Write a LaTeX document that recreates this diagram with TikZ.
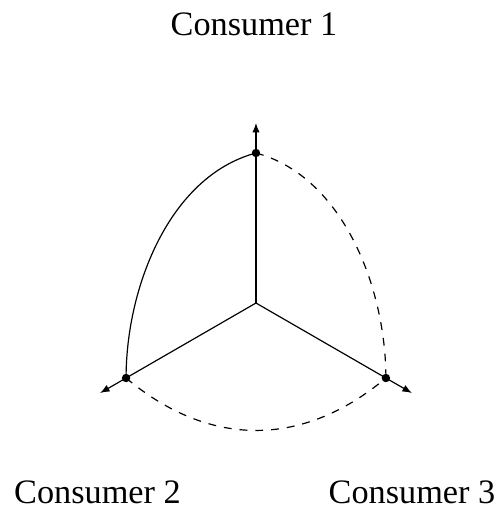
\documentclass[tikz,border=0pt]{standalone}
\usepackage{fontspec}
\setmainfont{Liberation Serif}
\usetikzlibrary{arrows.meta}
\begin{document}
\begin{tikzpicture}[
  axis/.style={line width=0.45pt,-{Latex[length=3.6pt,width=2.8pt]}},
  dotnode/.style={circle,fill=black,inner sep=0pt,minimum size=3.2pt},
  arcline/.style={line width=0.45pt},
  dasharc/.style={line width=0.45pt,dash pattern=on 3pt off 3pt},
  lab/.style={anchor=base,inner sep=0pt,font=\fontsize{13}{15}\selectfont}
]
\useasboundingbox (-3.413,-2.733) rectangle (3.267,4.04);
\coordinate (O) at (0,0);
\coordinate (E1) at (90:2.4);
\coordinate (E2) at (210:2.4);
\coordinate (E3) at (330:2.4);
\draw[axis] (O) -- (E1);
\draw[axis] (O) -- (E2);
\draw[axis] (O) -- (E3);
\node[dotnode] (A) at (90:2) {};
\node[dotnode] (B) at (210:2) {};
\node[dotnode] (C) at (330:2) {};
\draw[arcline] (A.center) .. controls +(195:1.2) and +(90:1.2) .. (B.center);
\draw[dasharc] (A.center) .. controls +(-15:1.2) and +(90:1.2) .. (C.center);
\draw[dasharc] (B.center) .. controls +(-40:1.45) and +(-140:1.45) .. (C.center);
\node[lab] (L1) at (-0.027,3.573) {Consumer 1};
\node[lab] (L2) at (-2.113,-2.667) {Consumer 2};
\node[lab] (L3) at (2.08,-2.667) {Consumer 3};
\end{tikzpicture}
\end{document}
